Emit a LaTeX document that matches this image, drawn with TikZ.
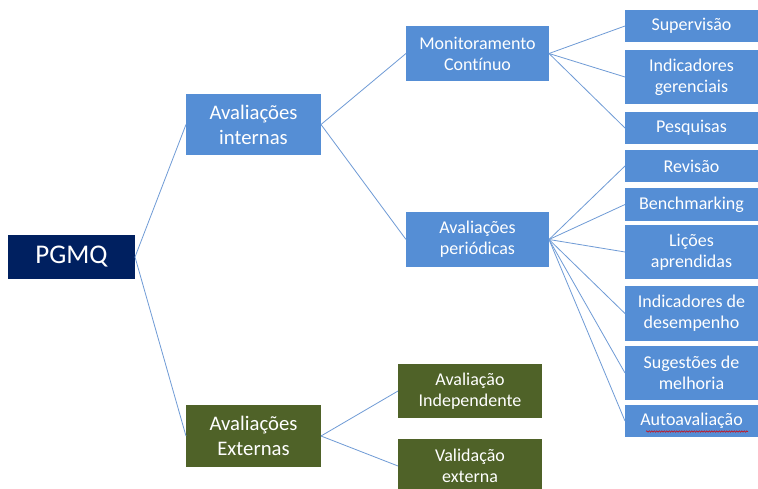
\documentclass[tikz,border=0pt]{standalone}
\usepackage{fontspec}
\setmainfont{Carlito}[Ligatures=CommonOff]
\usetikzlibrary{decorations.pathmorphing}
\definecolor{boxblue}{HTML}{558ED5}
\definecolor{navy}{HTML}{002060}
\definecolor{olive}{HTML}{4F6228}
\definecolor{linkblue}{HTML}{6F9BD6}
\begin{document}
\begin{tikzpicture}[x=1pt,y=-1pt,
  base/.style={rectangle,inner sep=0pt,outer sep=0pt,text=white,align=center},
  bluebox/.style={base,fill=boxblue},
  olivebox/.style={base,fill=olive},
  big/.style={font=\fontsize{20.7}{25}\selectfont},
  small/.style={font=\fontsize{18}{21}\selectfont},
  link/.style={draw=linkblue,line width=0.8pt}]
\useasboundingbox (0,0) rectangle (758,489);
\fill[white] (0,0) rectangle (758,489);
% nodes
\node[base,fill=navy,minimum width=127,minimum height=44,font=\fontsize{27}{30}\selectfont] (pgmq) at (71.5,257) {PGMQ};
\node[bluebox,big,minimum width=135,minimum height=61] (ai) at (253.5,124.5) {Avaliações\\internas};
\node[olivebox,big,minimum width=135,minimum height=62] (ae) at (253.5,436) {Avaliações\\Externas};
\node[bluebox,small,minimum width=143,minimum height=55] (mc) at (477.5,53.5) {Monitoramento\\Contínuo};
\node[bluebox,small,minimum width=143,minimum height=55] (ap) at (477.5,239.5) {Avaliações\\periódicas};
\node[olivebox,small,minimum width=144,minimum height=54] (ind) at (470,391) {Avaliação\\Independente};
\node[olivebox,small,minimum width=144,minimum height=54] (val) at (470,466) {Validação\\externa};
\node[bluebox,small,minimum width=133,minimum height=32] (sup) at (691.5,26) {Supervisão};
\node[bluebox,small,minimum width=133,minimum height=54] (igr) at (691.5,77) {Indicadores\\gerenciais};
\node[bluebox,small,minimum width=133,minimum height=32] (pes) at (691.5,128) {Pesquisas};
\node[bluebox,small,minimum width=133,minimum height=32] (rev) at (691.5,166) {Revisão};
\node[bluebox,small,minimum width=133,minimum height=33] (ben) at (691.5,204.5) {Benchmarking};
\node[bluebox,small,minimum width=133,minimum height=54] (lic) at (691.5,252) {Lições\\aprendidas};
\node[bluebox,small,minimum width=133,minimum height=55] (ide) at (691.5,313.5) {Indicadores de\\desempenho};
\node[bluebox,small,minimum width=133,minimum height=54] (sug) at (691.5,373) {Sugestões de\\melhoria};
\node[bluebox,small,minimum width=133,minimum height=32] (aut) at (691.5,421) {Autoavaliação};
% connectors
\draw[link] (pgmq.east) -- (ai.west);
\draw[link] (pgmq.east) -- (ae.west);
\draw[link] (ai.east) -- (mc.west);
\draw[link] (ai.east) -- (ap.west);
\draw[link] (ae.east) -- (ind.west);
\draw[link] (ae.east) -- (val.west);
\foreach \t in {sup,igr,pes} \draw[link] (mc.east) -- (\t.west);
\foreach \t in {rev,ben,lic,ide,sug,aut} \draw[link] (ap.east) -- (\t.west);
% spell-check wavy underline
\coordinate (w1) at (646,431.5);
\coordinate (w2) at (748,431.5);
\draw[red!85!black,line width=0.5pt,decorate,decoration={snake,amplitude=0.7pt,segment length=2.5pt}] (w1) -- (w2);
\end{tikzpicture}
\end{document}
